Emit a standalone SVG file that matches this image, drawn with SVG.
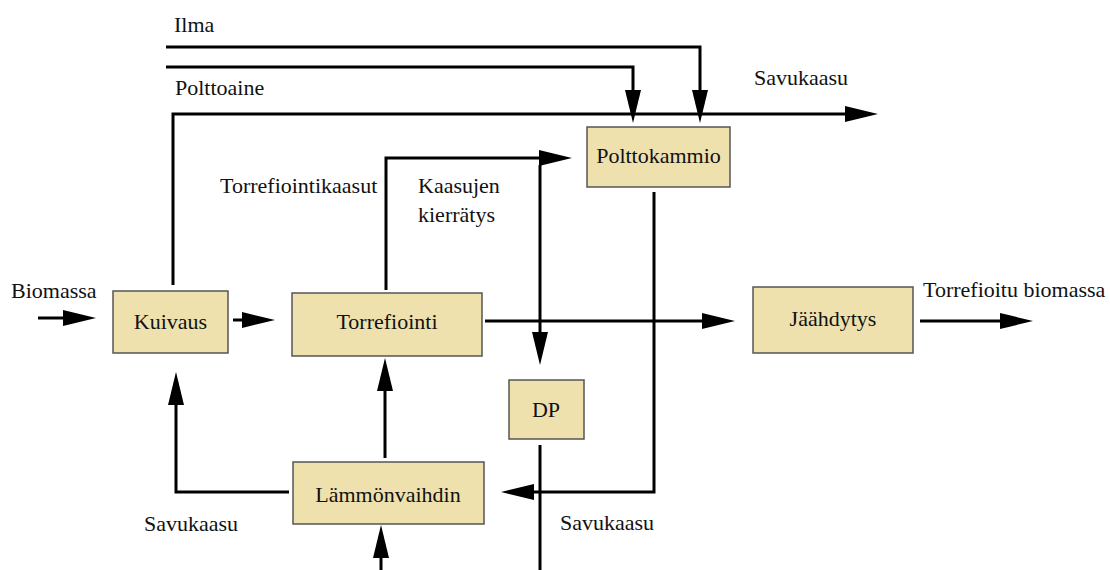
<svg xmlns="http://www.w3.org/2000/svg" width="1110" height="570" viewBox="0 0 1110 570">
<style>
  .box { fill: #EEE1AE; stroke: #555; stroke-width: 1.5; }
  .lbl { font-family: "Liberation Serif", "DejaVu Serif", "Noto Serif", serif; font-size: 22px; fill: #111; }
  .mid { text-anchor: middle; }
  .ln { fill: none; stroke: #000; stroke-width: 3; stroke-linejoin: miter; }
  .arr { marker-end: url(#ah); }
</style>
<defs>
  <marker id="ah" markerUnits="userSpaceOnUse" markerWidth="34" markerHeight="16" refX="23" refY="8" orient="auto" overflow="visible">
    <path d="M0,0 L33,8 L0,16 Z" fill="#000"/>
  </marker>
</defs>
<rect width="1110" height="570" fill="#fff"/>

<g id="connectors">
  <polyline class="ln arr" points="166,47 700,47 700,113"/>
  <polyline class="ln arr" points="166,67 633,67 633,113"/>
  <polyline class="ln arr" points="173,285 173,114 868,114"/>
  <polyline class="ln arr" points="386,290 386,158 562,158"/>
  <polyline class="ln arr" points="540,165 540,355"/>
  <polyline class="ln arr" points="654,192 654,492 511,492"/>
  <polyline class="ln" points="540,445 540,570"/>
  <polyline class="ln arr" points="38,318 86,318"/>
  <polyline class="ln arr" points="233,320 265,320"/>
  <polyline class="ln arr" points="485,321 725,321"/>
  <polyline class="ln arr" points="920,321 1023,321"/>
  <polyline class="ln arr" points="289,492 176,492 176,382"/>
  <polyline class="ln arr" points="385,458 385,368"/>
  <polyline class="ln arr" points="381,570 381,535"/>
</g>

<g id="labels">
  <text class="lbl" x="174" y="32">Ilma</text>
  <text class="lbl" x="175" y="95">Polttoaine</text>
  <text class="lbl" x="754" y="85">Savukaasu</text>
  <text class="lbl" x="220" y="193">Torrefiointikaasut</text>
  <text class="lbl" x="418" y="193">Kaasujen</text>
  <text class="lbl" x="418" y="222">kierrätys</text>
  <text class="lbl" x="11" y="298">Biomassa</text>
  <text class="lbl" x="923" y="297">Torrefioitu biomassa</text>
  <text class="lbl" x="144" y="531">Savukaasu</text>
  <text class="lbl" x="560" y="530">Savukaasu</text>
</g>

<g id="node-polttokammio">
  <rect class="box" x="587" y="127" width="143" height="60"/>
  <text class="lbl mid" x="658.5" y="163">Polttokammio</text>
</g>
<g id="node-kuivaus">
  <rect class="box" x="113" y="291" width="115" height="62"/>
  <text class="lbl mid" x="170.5" y="329">Kuivaus</text>
</g>
<g id="node-torrefiointi">
  <rect class="box" x="292" y="293" width="190" height="63"/>
  <text class="lbl mid" x="387" y="329">Torrefiointi</text>
</g>
<g id="node-jaahdytys">
  <rect class="box" x="753" y="287" width="160" height="66"/>
  <text class="lbl mid" x="833" y="326">Jäähdytys</text>
</g>
<g id="node-dp">
  <rect class="box" x="509" y="380" width="75" height="59"/>
  <text class="lbl mid" x="546" y="417">DP</text>
</g>
<g id="node-lammonvaihdin">
  <rect class="box" x="293" y="462" width="191" height="62"/>
  <text class="lbl mid" x="388" y="502">Lämmönvaihdin</text>
</g>
</svg>
